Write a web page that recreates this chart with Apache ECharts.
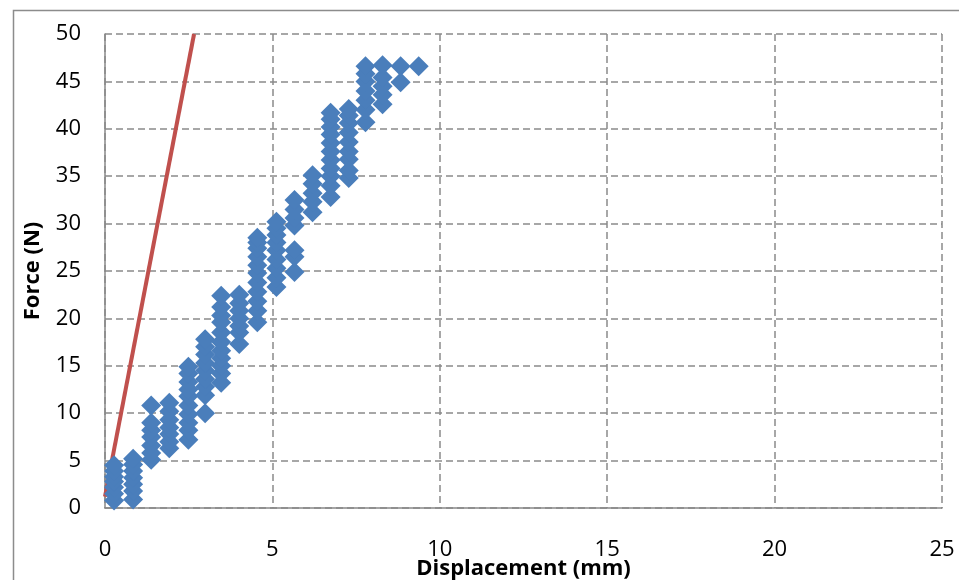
<!DOCTYPE html>
<html>
<head>
<meta charset="utf-8">
<script src="https://cdn.jsdelivr.net/npm/echarts@6/dist/echarts.min.js"></script>
<style>
html,body{margin:0;padding:0;background:#fff;}
#chart{width:959px;height:580px;}
</style>
</head>
<body>
<div id="chart"></div>
<script>
// Displacement (mm) of each measurement column
var columnX = [0.27, 0.84, 1.38, 1.92, 2.49, 2.99, 3.47, 4.01, 4.55, 5.12, 5.66, 6.20, 6.74, 7.28, 7.78, 8.29, 8.83, 9.37];
// Force (N) values measured at each column
var columnForces = [
  [0.8, 1.5, 2.2, 2.8, 3.3, 3.9, 4.5],
  [0.9, 1.8, 2.5, 3.2, 3.9, 4.6, 5.2],
  [5.1, 5.8, 6.6, 7.5, 8.2, 9.0, 10.8],
  [6.3, 7.0, 7.8, 8.5, 9.3, 10.2, 11.1],
  [7.2, 8.2, 9.0, 9.9, 10.8, 11.8, 12.5, 13.3, 14.2, 14.9],
  [10.0, 11.9, 12.8, 13.6, 14.5, 15.3, 16.2, 17.0, 17.8],
  [13.2, 14.2, 15.0, 15.8, 16.6, 17.5, 18.5, 19.6, 20.3, 21.2, 22.4],
  [17.3, 18.5, 19.2, 20.0, 20.8, 21.6, 22.5],
  [19.6, 20.8, 21.8, 22.8, 23.8, 24.8, 25.6, 26.5, 27.4, 28.0, 28.5],
  [23.3, 24.3, 25.3, 26.2, 27.2, 28.0, 28.8, 29.5, 30.2],
  [24.9, 26.5, 27.2, 29.8, 30.6, 31.5, 32.5],
  [31.2, 32.3, 33.2, 34.2, 35.1],
  [32.8, 34.0, 35.0, 35.8, 36.7, 37.6, 38.5, 39.4, 40.2, 41.0, 41.7],
  [34.8, 35.6, 36.8, 37.6, 38.6, 39.6, 40.6, 41.4, 42.1],
  [40.7, 42.0, 43.0, 44.0, 45.0, 45.8, 46.6],
  [42.6, 43.6, 44.5, 45.4, 46.7],
  [44.9, 46.6],
  [46.6]
];
// Reference (stiffness) line end points
var lineX = [0, 2.66];
var lineY = [1.2, 50];
// Axis ticks
var xTicks = [0, 5, 10, 15, 20, 25];
var yTicks = [0, 5, 10, 15, 20, 25, 30, 35, 40, 45, 50];

var scatterData = [];
columnX.forEach(function (x, i) {
  columnForces[i].forEach(function (y) { scatterData.push([x, y]); });
});
var lineData = lineX.map(function (x, i) { return [x, lineY[i]]; });

var font = '"Open Sans", "Liberation Sans", sans-serif';
var gridLine = { show: true, lineStyle: { color: '#8a8a8a', width: 1.5, type: [7, 4] } };

var chart = echarts.init(document.getElementById('chart'), null, { renderer: 'canvas' });
chart.setOption({
  animation: false,
  backgroundColor: '#fff',
  graphic: [{
    type: 'rect', left: 11, top: 8, z: -10,
    shape: { width: 960, height: 600 },
    style: { fill: 'none', stroke: '#8c8c8c', lineWidth: 1.5 }
  }],
  grid: { left: 105, top: 34, right: 17, bottom: 72, containLabel: false, outerBoundsMode: 'none' },
  xAxis: {
    type: 'value', min: xTicks[0], max: xTicks[xTicks.length - 1], interval: 5,
    name: 'Displacement (mm)', nameLocation: 'middle', nameGap: 50, nameMoveOverlap: false,
    nameTextStyle: { fontFamily: font, fontWeight: 'bold', fontSize: 22, color: '#000' },
    axisLine: { show: true, onZero: false, lineStyle: { color: '#888', width: 1.5 } },
    axisTick: { show: false },
    axisLabel: { margin: 31, fontFamily: font, fontSize: 22, color: '#000' },
    splitLine: gridLine
  },
  yAxis: {
    type: 'value', min: yTicks[0], max: yTicks[yTicks.length - 1], interval: 5,
    name: 'Force (N)', nameLocation: 'middle', nameGap: 61, nameRotate: 90, nameMoveOverlap: false,
    nameTextStyle: { fontFamily: font, fontWeight: 'bold', fontSize: 22, color: '#000' },
    axisLine: { show: true, onZero: false, lineStyle: { color: '#888', width: 1.5 } },
    axisTick: { show: false },
    axisLabel: { margin: 24, fontFamily: font, fontSize: 22, color: '#000' },
    splitLine: gridLine
  },
  series: [
    {
      type: 'line', data: lineData, showSymbol: false, symbol: 'none',
      lineStyle: { color: '#C0504D', width: 4 }, z: 2, clip: true
    },
    {
      type: 'scatter', data: scatterData, symbol: 'diamond', symbolSize: 20,
      itemStyle: { color: '#4A7EBB', opacity: 1 }, z: 3
    }
  ]
});
</script>
</body>
</html>
